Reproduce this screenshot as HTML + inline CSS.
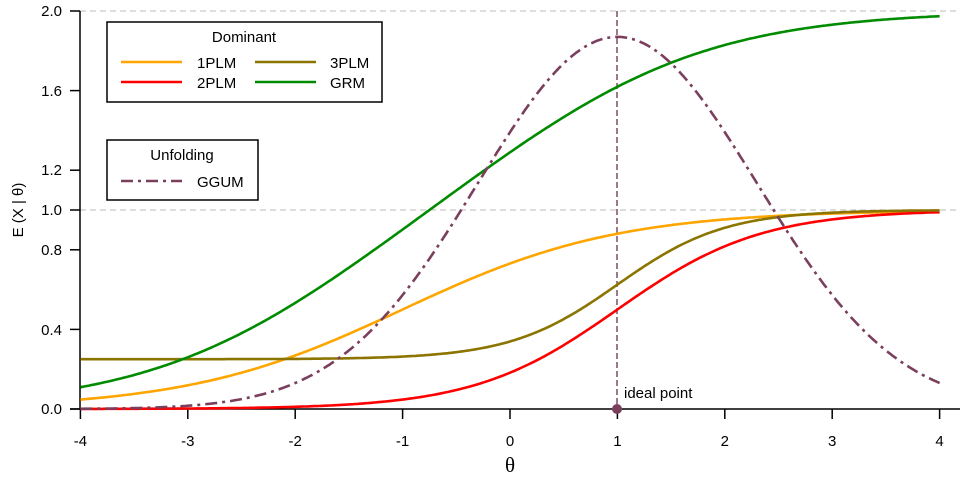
<!DOCTYPE html>
<html><head><meta charset="utf-8"><style>body{margin:0;background:#fff}svg{display:block}</style></head>
<body>
<svg id="s" width="960" height="480" xmlns="http://www.w3.org/2000/svg" font-family="Liberation Sans, sans-serif" font-size="15">
<rect width="960" height="480" fill="#fff"/>
<line x1="80" y1="11" x2="960" y2="11" stroke="#bbb" stroke-dasharray="6,4"/>
<line x1="80" y1="210" x2="960" y2="210" stroke="#bbb" stroke-dasharray="6,4"/>
<line x1="617" y1="11" x2="617" y2="409" stroke="#6b2f4e" stroke-width="1.3" stroke-dasharray="6,3"/>
<g stroke="#000" stroke-width="1.5">
<line x1="80" y1="11" x2="80" y2="409"/>
<line x1="70" y1="409" x2="960" y2="409"/>
<line x1="70" y1="409" x2="80" y2="409"/><line x1="70" y1="329.4" x2="80" y2="329.4"/><line x1="70" y1="249.8" x2="80" y2="249.8"/><line x1="70" y1="210" x2="80" y2="210"/><line x1="70" y1="170.2" x2="80" y2="170.2"/><line x1="70" y1="90.6" x2="80" y2="90.6"/><line x1="70" y1="11" x2="80" y2="11"/>
</g>
<g id="xt" stroke="#000" stroke-width="1.5"></g>
<g text-anchor="end">
<text x="62" y="414">0.0</text><text x="62" y="335">0.4</text><text x="62" y="255">0.8</text><text x="62" y="215">1.0</text><text x="62" y="175">1.2</text><text x="62" y="96">1.6</text><text x="62" y="16">2.0</text>
</g>
<g id="xl" text-anchor="middle"></g>
<text x="510" y="472" text-anchor="middle" font-family="Liberation Serif, serif" font-size="21">θ</text>
<text transform="translate(23,210) rotate(-90)" text-anchor="middle">E (X | θ)</text>
<g id="curves" fill="none" stroke-width="2.6"></g>
<circle cx="617" cy="409" r="5" fill="#7b3f5e"/>
<text x="624" y="398">ideal point</text>
<rect x="107" y="22" width="275" height="80" fill="#fff" stroke="#000" stroke-width="1.5"/>
<text x="244" y="42" text-anchor="middle">Dominant</text>
<line x1="121" y1="62" x2="182" y2="62" stroke="#ffa500" stroke-width="2.6"/>
<line x1="121" y1="82" x2="182" y2="82" stroke="#ff0000" stroke-width="2.6"/>
<line x1="255" y1="62" x2="316" y2="62" stroke="#8b7500" stroke-width="2.6"/>
<line x1="255" y1="82" x2="316" y2="82" stroke="#008b00" stroke-width="2.6"/>
<text x="197" y="68">1PLM</text><text x="197" y="88">2PLM</text>
<text x="330" y="68">3PLM</text><text x="330" y="88">GRM</text>
<rect x="107" y="140" width="151" height="60" fill="#fff" stroke="#000" stroke-width="1.5"/>
<text x="182" y="160" text-anchor="middle">Unfolding</text>
<line x1="121" y1="181" x2="182" y2="181" stroke="#7b3f5e" stroke-width="2.6" stroke-dasharray="12,5,3,5"/>
<text x="197" y="187">GGUM</text>
</svg>
<script>
var ns="http://www.w3.org/2000/svg";
function X(t){return 510+t*107.4}function Y(v){return 409-v*199}
var L=function(z){return 1/(1+Math.exp(-z))};
var xt=document.getElementById('xt'),xl=document.getElementById('xl');
for(var t=-4;t<=4;t++){var l=document.createElementNS(ns,'line');l.setAttribute('x1',X(t));l.setAttribute('x2',X(t));l.setAttribute('y1',409);l.setAttribute('y2',419);xt.appendChild(l);
var tx=document.createElementNS(ns,'text');tx.setAttribute('x',X(t));tx.setAttribute('y',446);tx.textContent=t;xl.appendChild(tx);}
var fs=[
[function(t){return L(t+1)},'#ffa500',null],
[function(t){return L(1.5*(t-1))},'#ff0000',null],
[function(t){return 0.25+0.75*L(2*(t-1))},'#8b7500',null],
[function(t){return L(t+1.75)+L(t-0.25)},'#008b00',null],
[function(t){return 1.87*Math.exp(-(t-1)*(t-1)/3.38)},'#7b3f5e','12,5,3,5']];
var g=document.getElementById('curves');
fs.forEach(function(f){var d='';for(var i=0;i<=400;i++){var t=-4+i*0.02;d+=(i?'L':'M')+X(t).toFixed(1)+' '+Y(f[0](t)).toFixed(1);}
var p=document.createElementNS(ns,'path');p.setAttribute('d',d);p.setAttribute('stroke',f[1]);if(f[2])p.setAttribute('stroke-dasharray',f[2]);g.appendChild(p);});
</script>
</body></html>
